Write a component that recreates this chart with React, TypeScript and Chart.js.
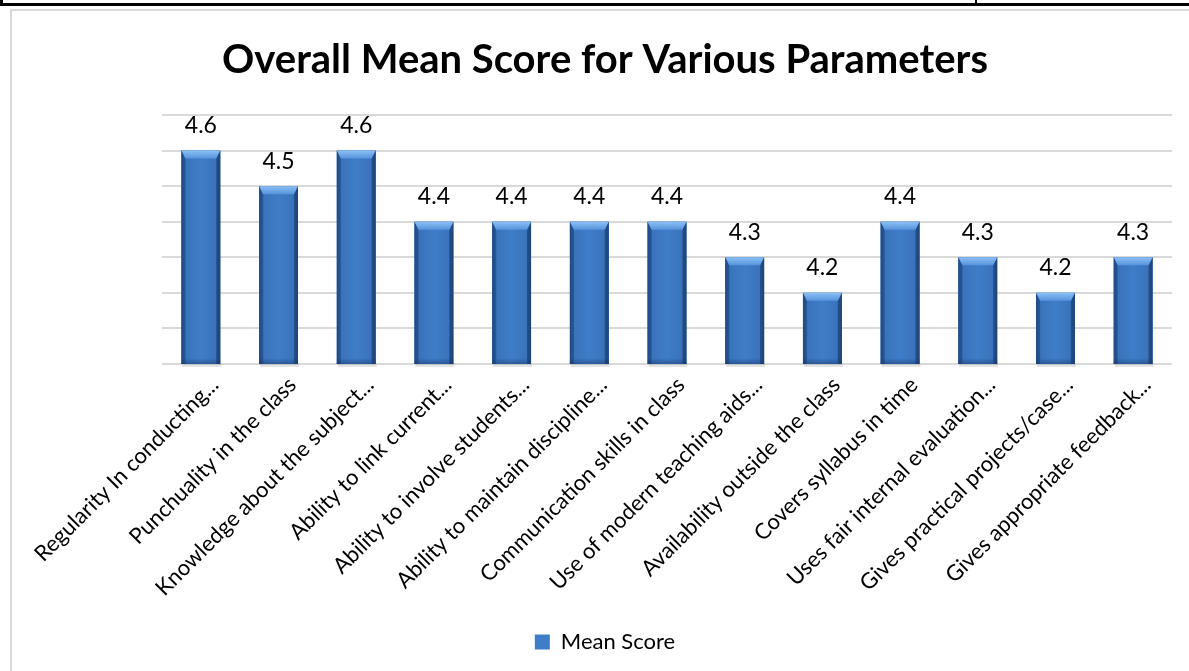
import React, { useEffect, useRef } from "react";
import { Chart, registerables } from "chart.js";

Chart.register(...registerables);

const categories: string[] = [
  "Regularity In conducting...",
  "Punchuality in the class",
  "Knowledge about the subject...",
  "Ability to link current...",
  "Ability to involve students...",
  "Ability to maintain discipline...",
  "Communication skills in class",
  "Use of modern teaching aids...",
  "Availability outside the class",
  "Covers syllabus in time",
  "Uses fair internal evaluation...",
  "Gives practical projects/case...",
  "Gives appropriate feedback...",
];

const meanScores: number[] = [4.6, 4.5, 4.6, 4.4, 4.4, 4.4, 4.4, 4.3, 4.2, 4.4, 4.3, 4.2, 4.3];

const seriesName = "Mean Score";
const chartTitle = "Overall Mean Score for Various Parameters";
const yMin = 4.0;
const yMax = 4.7;
const yStep = 0.1;

const FONT = "Lato, 'Open Sans', sans-serif";

const bevelPlugin = {
  id: "bevelBars",
  afterDatasetsDraw(chart: any) {
    const ctx: CanvasRenderingContext2D = chart.ctx;
    const meta = chart.getDatasetMeta(0);
    const area = chart.chartArea;
    ctx.save();
    meta.data.forEach((el: any) => {
      const w = el.width;
      const l = el.x - w / 2;
      const r = el.x + w / 2;
      const t = el.y;
      const b = Math.min(el.base, area.bottom);
      const bv = 8;
      // soft shadow under the bar
      ctx.fillStyle = "rgba(0,0,0,0.10)";
      ctx.fillRect(l + 1, b, w, 3);
      // body gradient
      const g = ctx.createLinearGradient(l, 0, r, 0);
      g.addColorStop(0, "#23518c");
      g.addColorStop(0.12, "#3a73bb");
      g.addColorStop(0.5, "#3f7dc8");
      g.addColorStop(0.88, "#3a73bb");
      g.addColorStop(1, "#23518c");
      ctx.fillStyle = g;
      ctx.fillRect(l, t, w, b - t);
      // left bevel
      ctx.beginPath();
      ctx.moveTo(l, t);
      ctx.lineTo(l + 4, t + bv);
      ctx.lineTo(l + 4, b);
      ctx.lineTo(l, b);
      ctx.closePath();
      ctx.fillStyle = "rgba(30,70,125,0.55)";
      ctx.fill();
      // right bevel
      ctx.beginPath();
      ctx.moveTo(r, t);
      ctx.lineTo(r - 4, t + bv);
      ctx.lineTo(r - 4, b);
      ctx.lineTo(r, b);
      ctx.closePath();
      ctx.fillStyle = "rgba(25,60,110,0.6)";
      ctx.fill();
      // top bevel
      const tg = ctx.createLinearGradient(0, t, 0, t + bv);
      tg.addColorStop(0, "#8cc0f4");
      tg.addColorStop(1, "#5593dc");
      ctx.beginPath();
      ctx.moveTo(l, t);
      ctx.lineTo(r, t);
      ctx.lineTo(r - 4, t + bv);
      ctx.lineTo(l + 4, t + bv);
      ctx.closePath();
      ctx.fillStyle = tg;
      ctx.fill();
      // bottom shade
      const bg = ctx.createLinearGradient(0, b - 6, 0, b);
      bg.addColorStop(0, "rgba(20,50,100,0)");
      bg.addColorStop(1, "rgba(20,50,100,0.45)");
      ctx.fillStyle = bg;
      ctx.fillRect(l, b - 6, w, 6);
    });
    ctx.restore();
  },
};

const valueLabelPlugin = {
  id: "valueLabels",
  afterDatasetsDraw(chart: any) {
    const ctx: CanvasRenderingContext2D = chart.ctx;
    const meta = chart.getDatasetMeta(0);
    const data = chart.data.datasets[0].data as number[];
    ctx.save();
    ctx.font = `23px ${FONT}`;
    ctx.fillStyle = "#000000";
    ctx.textAlign = "center";
    ctx.textBaseline = "middle";
    meta.data.forEach((el: any, i: number) => {
      ctx.fillText(data[i].toFixed(1), el.x, el.y - 25);
    });
    ctx.restore();
  },
};

export default function App() {
  const canvasRef = useRef<HTMLCanvasElement | null>(null);

  useEffect(() => {
    if (!canvasRef.current) return;
    const chart = new Chart(canvasRef.current, {
      type: "bar",
      data: {
        labels: categories,
        datasets: [
          {
            label: seriesName,
            data: meanScores,
            backgroundColor: "#3f7dc8",
            borderColor: "#2a5f9e",
            borderWidth: 0,
            barPercentage: 0.5,
            categoryPercentage: 1.0,
          },
        ],
      },
      options: {
        animation: false,
        responsive: false,
        maintainAspectRatio: false,
        layout: { padding: { left: 27, right: 17, top: 26, bottom: 8 } },
        plugins: {
          title: {
            display: true,
            text: chartTitle,
            color: "#000000",
            font: { family: FONT, size: 40, weight: "bold" },
            padding: { top: 0, bottom: 31 },
          },
          legend: {
            display: true,
            position: "bottom",
            labels: {
              color: "#000000",
              font: { family: FONT, size: 22 },
              boxWidth: 15,
              boxHeight: 15,
              padding: 10,
            },
          },
          tooltip: { enabled: false },
        },
        scales: {
          x: {
            grid: { display: false },
            border: { display: false },
            ticks: {
              color: "#000000",
              font: { family: FONT, size: 22 },
              minRotation: 45,
              maxRotation: 45,
              autoSkip: false,
              padding: 0,
              labelOffset: 14,
            },
            afterFit(scale: any) {
              scale.height = 257;
            },
          },
          y: {
            min: yMin,
            max: yMax,
            ticks: { display: false, stepSize: yStep },
            grid: { color: "#d9d9d9", lineWidth: 2, drawTicks: false },
            border: { display: false },
            afterFit(scale: any) {
              scale.width = 124;
            },
          },
        },
      },
      plugins: [bevelPlugin, valueLabelPlugin],
    });
    return () => chart.destroy();
  }, []);

  return (
    <div
      style={{
        position: "fixed",
        left: 0,
        top: 0,
        width: 1189,
        height: 671,
        background: "#ffffff",
        overflow: "hidden",
      }}
    >
      <div style={{ position: "absolute", left: 0, top: 3, width: 1189, height: 3, background: "#000" }} />
      <div style={{ position: "absolute", left: 0, top: 0, width: 3, height: 6, background: "#000" }} />
      <div style={{ position: "absolute", left: 975, top: 0, width: 2, height: 6, background: "#000" }} />
      <div
        style={{
          position: "absolute",
          left: 10,
          top: 9,
          width: 1200,
          height: 700,
          border: "2px solid #d9d9d9",
          boxSizing: "border-box",
        }}
      />
      <canvas
        ref={canvasRef}
        width={1178}
        height={661}
        style={{ position: "absolute", left: 11, top: 10, width: 1178, height: 661 }}
      />
    </div>
  );
}
